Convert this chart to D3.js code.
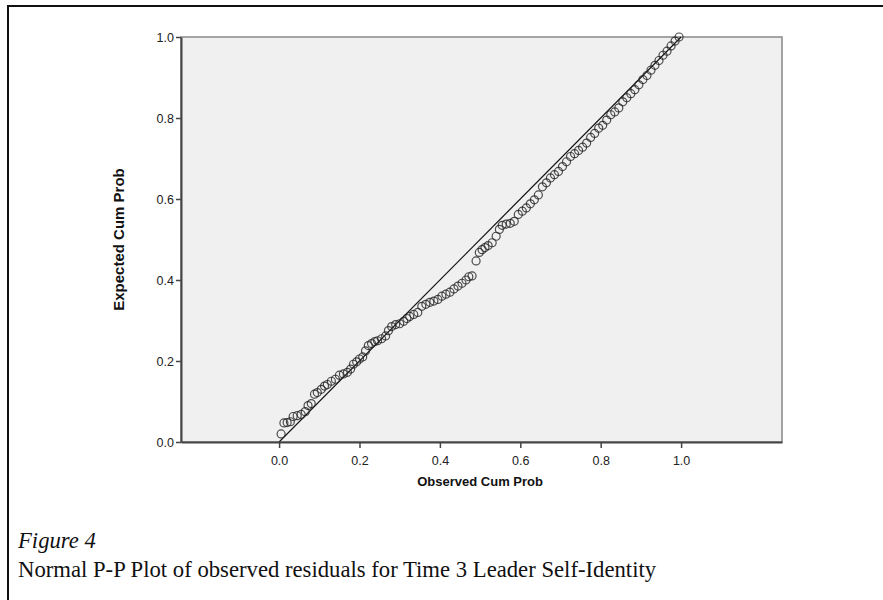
<!DOCTYPE html>
<html>
<head>
<meta charset="utf-8">
<script src="https://cdn.jsdelivr.net/npm/d3@7"></script>
<style>
  body { margin: 0; background: #fff; }
  .axis-title { font-family: "Liberation Sans", Arial, sans-serif; font-weight: bold; fill: #111; }
  .caption { font-family: "Liberation Serif", "DejaVu Serif", serif; fill: #111; }
</style>
</head>
<body>
<div id="chart"></div>
<script>
// observed cumulative probability (x) and expected cumulative probability (y)
var observed = [0.005, 0.012, 0.02, 0.028, 0.035, 0.045, 0.055, 0.065, 0.072, 0.08,
    0.088, 0.095, 0.105, 0.113, 0.12, 0.13, 0.14, 0.15, 0.16, 0.17,
    0.178, 0.185, 0.193, 0.2, 0.208, 0.215, 0.222, 0.23, 0.238, 0.245,
    0.255, 0.265, 0.272, 0.28, 0.29, 0.3, 0.31, 0.318, 0.325, 0.335,
    0.345, 0.355, 0.365, 0.375, 0.385, 0.395, 0.405, 0.415, 0.425, 0.435,
    0.445, 0.455, 0.465, 0.472, 0.48, 0.49, 0.498, 0.505, 0.512, 0.52,
    0.53, 0.54, 0.548, 0.555, 0.565, 0.575, 0.585, 0.595, 0.605, 0.615,
    0.625, 0.635, 0.645, 0.655, 0.665, 0.675, 0.685, 0.695, 0.705, 0.715,
    0.725, 0.735, 0.745, 0.755, 0.765, 0.775, 0.785, 0.795, 0.805, 0.815,
    0.825, 0.835, 0.845, 0.855, 0.865, 0.875, 0.885, 0.895, 0.905, 0.915,
    0.925, 0.935, 0.945, 0.955, 0.965, 0.975, 0.985, 0.995];
var expected = [0.020, 0.047, 0.048, 0.050, 0.063, 0.065, 0.068, 0.075, 0.090, 0.095,
    0.118, 0.122, 0.130, 0.138, 0.142, 0.150, 0.155, 0.165, 0.168, 0.172,
    0.180, 0.192, 0.198, 0.205, 0.210, 0.225, 0.238, 0.243, 0.248, 0.250,
    0.255, 0.262, 0.275, 0.285, 0.290, 0.292, 0.298, 0.305, 0.310, 0.315,
    0.320, 0.335, 0.340, 0.345, 0.348, 0.352, 0.360, 0.365, 0.370, 0.378,
    0.385, 0.392, 0.400, 0.408, 0.410, 0.447, 0.468, 0.475, 0.480, 0.485,
    0.492, 0.508, 0.525, 0.535, 0.538, 0.540, 0.545, 0.562, 0.570, 0.578,
    0.588, 0.598, 0.610, 0.630, 0.640, 0.652, 0.660, 0.668, 0.680, 0.692,
    0.705, 0.712, 0.720, 0.728, 0.738, 0.752, 0.762, 0.775, 0.782, 0.795,
    0.808, 0.815, 0.825, 0.840, 0.850, 0.860, 0.870, 0.882, 0.895, 0.905,
    0.918, 0.930, 0.942, 0.955, 0.965, 0.978, 0.990, 1.000];
var tickValues = [0.0, 0.2, 0.4, 0.6, 0.8, 1.0];
var xTitle = "Observed Cum Prob",
    yTitle = "Expected Cum Prob";
var captionTitle = "Figure 4",
    captionText = "Normal P-P Plot of observed residuals for Time 3 Leader Self-Identity";

var W = 883, H = 600;
var plot = { left: 181, top: 37, right: 782, bottom: 442 };

var svg = d3.select("#chart").append("svg")
    .attr("width", W)
    .attr("height", H);

// page frame (left + top edges visible)
svg.append("path")
    .attr("d", "M8,600V6H883")
    .attr("fill", "none")
    .attr("stroke", "#111")
    .attr("stroke-width", 2);

var x = d3.scaleLinear()
    .domain([-0.244, 1.251])
    .range([plot.left, plot.right]);

var y = d3.scaleLinear()
    .domain([0, 1])
    .range([plot.bottom, plot.top]);

// plot background + light top/right border
svg.append("rect")
    .attr("x", plot.left)
    .attr("y", plot.top)
    .attr("width", plot.right - plot.left)
    .attr("height", plot.bottom - plot.top)
    .attr("fill", "#f0f0f0")
    .attr("stroke", "#888")
    .attr("stroke-width", 1.5);

// reference diagonal
svg.append("line")
    .attr("x1", x(0)).attr("y1", y(0))
    .attr("x2", x(1)).attr("y2", y(1))
    .attr("stroke", "#111")
    .attr("stroke-width", 1.1);

var points = observed.map(function(d, i) {
    return { obs: d, exp: expected[i] };
});

svg.append("g")
    .selectAll("circle")
    .data(points)
    .enter().append("circle")
    .attr("cx", function(d) { return x(d.obs); })
    .attr("cy", function(d) { return y(d.exp); })
    .attr("r", 4)
    .attr("fill", "none")
    .attr("stroke", "#222")
    .attr("stroke-opacity", 0.8)
    .attr("stroke-width", 1.2);

var xAxis = d3.axisBottom(x)
    .tickValues(tickValues)
    .tickFormat(d3.format(".1f"))
    .tickSize(6)
    .tickSizeOuter(0);

var yAxis = d3.axisLeft(y)
    .tickValues(tickValues)
    .tickFormat(d3.format(".1f"))
    .tickSize(5)
    .tickSizeOuter(0);

function styleAxis(g) {
    g.attr("font-family", "Liberation Sans, Arial, sans-serif")
        .attr("font-size", 12.5);
    g.select(".domain").attr("stroke", "#444").attr("stroke-width", 2);
    g.selectAll(".tick line").attr("stroke", "#444").attr("stroke-width", 1.5);
    g.selectAll(".tick text").attr("fill", "#222");
}

var xg = svg.append("g")
    .attr("transform", "translate(0," + plot.bottom + ")")
    .call(xAxis)
    .call(styleAxis);
xg.selectAll(".tick text").attr("dy", "1.15em");

var yg = svg.append("g")
    .attr("transform", "translate(" + plot.left + ",0)")
    .call(yAxis)
    .call(styleAxis);
yg.selectAll(".tick text").attr("x", -7);

svg.append("text")
    .attr("class", "axis-title")
    .attr("x", x(0.5))
    .attr("y", 486)
    .attr("text-anchor", "middle")
    .style("font-size", "13px")
    .text(xTitle);

svg.append("text")
    .attr("class", "axis-title")
    .attr("text-anchor", "middle")
    .attr("transform", "translate(124," + y(0.5) + ") rotate(-90)")
    .style("font-size", "15px")
    .text(yTitle);

svg.append("text")
    .attr("class", "caption")
    .attr("x", 18)
    .attr("y", 548)
    .style("font-size", "22.7px")
    .style("font-style", "italic")
    .text(captionTitle);

svg.append("text")
    .attr("class", "caption")
    .attr("x", 18)
    .attr("y", 577)
    .style("font-size", "22.7px")
    .text(captionText);
</script>
</body>
</html>
